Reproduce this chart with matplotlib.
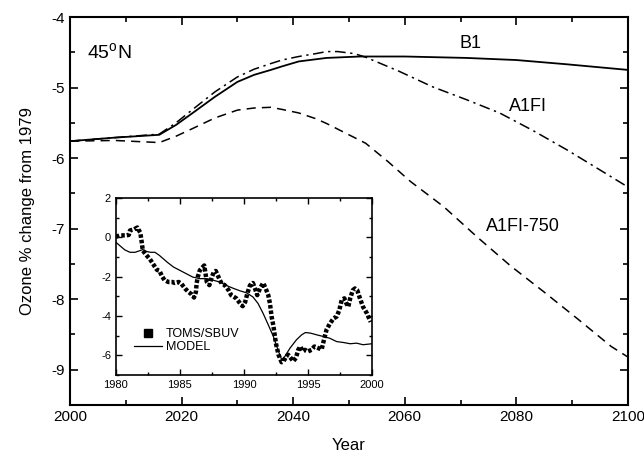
import matplotlib
matplotlib.use("Agg")
import matplotlib.pyplot as plt
from matplotlib.ticker import MultipleLocator

plt.rcParams['font.family'] = ['Liberation Sans', 'DejaVu Sans']
plt.rcParams['mathtext.fontset'] = 'custom'
plt.rcParams['mathtext.rm'] = 'Liberation Sans'
plt.rcParams['axes.unicode_minus'] = False

# main panel scenarios
b1_yr = [2000, 2008, 2016, 2019, 2022, 2026, 2030, 2033, 2036, 2038, 2041, 2044, 2046, 2049, 2052,
         2060, 2071, 2080, 2089, 2100]
b1_val = [-5.76, -5.71, -5.67, -5.53, -5.36, -5.13, -4.92, -4.82, -4.75, -4.70, -4.63, -4.60, -4.58,
          -4.57, -4.56, -4.56, -4.58, -4.61, -4.67, -4.75]

a1fi_yr = [2000, 2008, 2016, 2019, 2022, 2026, 2030, 2033, 2036, 2038, 2041, 2044, 2046, 2048, 2051,
           2053, 2059, 2065, 2071, 2077, 2083, 2089, 2094, 2100]
a1fi_val = [-5.76, -5.71, -5.66, -5.50, -5.31, -5.06, -4.85, -4.74, -4.66, -4.61, -4.56, -4.52, -4.49,
            -4.49, -4.52, -4.57, -4.77, -4.99, -5.17, -5.36, -5.61, -5.88, -6.12, -6.41]

a750_yr = [2000, 2008, 2016, 2019, 2022, 2026, 2030, 2033, 2036, 2038, 2041, 2044, 2046, 2049, 2053,
           2057, 2061, 2067, 2073, 2079, 2085, 2091, 2097, 2100]
a750_val = [-5.76, -5.75, -5.78, -5.69, -5.58, -5.43, -5.32, -5.29, -5.28, -5.31, -5.36, -5.44, -5.51,
            -5.63, -5.79, -6.05, -6.33, -6.69, -7.12, -7.53, -7.90, -8.28, -8.67, -8.82]

# inset: observations and model
toms_yr = [1980.0, 1980.3, 1980.7, 1981.0, 1981.1, 1981.4, 1981.67, 1981.75, 1981.9, 1982.0, 1982.1,
           1982.4, 1982.65, 1982.9, 1983.2, 1983.4, 1983.6, 1983.8, 1984.1, 1984.4, 1984.6, 1984.9,
           1985.1, 1985.4, 1985.65, 1985.9, 1986.1, 1986.25, 1986.3, 1986.4, 1986.55, 1986.8, 1986.9,
           1987.0, 1987.1, 1987.3, 1987.5, 1987.65, 1987.8, 1988.0, 1988.25, 1988.5, 1988.8, 1989.0,
           1989.4, 1989.7, 1989.9, 1990.1, 1990.26, 1990.47, 1990.7, 1990.86, 1991.04, 1991.25, 1991.5,
           1991.7, 1991.9, 1992.03, 1992.16, 1992.3, 1992.5, 1992.7, 1992.94, 1993.1, 1993.3, 1993.45,
           1993.65, 1993.85, 1994.06, 1994.24, 1994.4, 1994.6, 1994.77, 1995.0, 1995.28, 1995.5, 1995.8,
           1996.07, 1996.25, 1996.45, 1996.7, 1997.0, 1997.24, 1997.45, 1997.63, 1997.84, 1998.0, 1998.15,
           1998.3, 1998.5, 1998.67, 1998.85, 1999.06, 1999.3, 1999.6, 1999.9]
toms_val = [0.03, 0.1, 0.1, 0.12, 0.35, 0.4, 0.5, 0.4, 0.25, -0.17, -0.67,
            -0.92, -1.1, -1.35, -1.65, -1.7, -1.98, -2.18, -2.27, -2.27, -2.32, -2.27,
            -2.35, -2.6, -2.77, -2.89, -3.06, -2.77, -2.35, -2.0, -1.68, -1.5, -1.43,
            -1.85, -2.27, -2.43, -2.0, -1.76, -1.71, -2.0, -2.35, -2.43, -2.69, -2.94,
            -3.1, -3.36, -3.5, -3.28, -2.86, -2.44, -2.32, -2.6, -2.94, -2.6, -2.32,
            -2.6, -2.94, -3.36, -4.03, -4.5, -5.4, -5.97, -6.35, -6.3, -6.05, -5.97,
            -6.13, -6.3, -6.13, -5.72, -5.55, -5.8, -5.72, -5.8, -5.72, -5.55, -5.63,
            -5.7, -5.21, -4.7, -4.4, -4.12, -4.03, -3.7, -3.2, -3.1, -3.36, -3.53,
            -3.1, -2.69, -2.6, -2.69, -3.1, -3.53, -3.86, -4.3]

model_yr = [1980.0, 1980.3, 1980.7, 1981.1, 1981.5, 1981.9, 1982.1, 1982.4, 1982.7, 1983.05, 1983.4,
            1984.0, 1984.5, 1985.0, 1985.5, 1986.0, 1986.55, 1987.1, 1987.6, 1988.1, 1988.6, 1989.2,
            1989.7, 1990.2, 1990.7, 1991.1, 1991.5, 1991.9, 1992.3, 1992.7, 1992.95, 1993.2, 1993.6,
            1994.1, 1994.5, 1994.8, 1995.2, 1995.7, 1996.2, 1996.7, 1997.24, 1997.8, 1998.3, 1998.8,
            1999.3, 2000.0]
model_val = [-0.25, -0.42, -0.64, -0.76, -0.76, -0.67, -0.62, -0.72, -0.76, -0.76, -0.92,
             -1.26, -1.51, -1.68, -1.85, -2.02, -2.1, -2.1, -2.18, -2.27, -2.44, -2.6,
             -2.72, -2.82, -3.03, -3.36, -3.87, -4.45, -5.04, -5.8, -6.22, -6.05, -5.63,
             -5.21, -4.96, -4.84, -4.87, -4.96, -5.04, -5.13, -5.3, -5.35, -5.41, -5.38,
             -5.46, -5.41]

fig = plt.figure(figsize=(6.44, 4.57), dpi=100)
ax = fig.add_axes([0.1087, 0.1138, 0.8663, 0.849])

ax.plot(b1_yr, b1_val, color='black', lw=1.3)
ax.plot(a1fi_yr, a1fi_val, color='black', lw=1.1, ls=(0, (7, 3, 1.5, 3)))
ax.plot(a750_yr, a750_val, color='black', lw=1.1, ls=(0, (6, 4)))

ax.set_xlim(2000, 2100)
ax.set_ylim(-9.5, -4)
ax.xaxis.set_major_locator(MultipleLocator(20))
ax.xaxis.set_minor_locator(MultipleLocator(10))
ax.yaxis.set_major_locator(MultipleLocator(1))
ax.yaxis.set_minor_locator(MultipleLocator(0.5))
ax.tick_params(which='both', direction='in', top=True, right=True, labelsize=11, width=1.2)
ax.tick_params(which='major', length=6)
ax.tick_params(which='minor', length=3.5)
for s in ax.spines.values():
    s.set_linewidth(1.5)
ax.set_xlabel('Year', fontsize=12, labelpad=10)
ax.set_ylabel('Ozone % change from 1979', fontsize=12, labelpad=12)

ax.text(2071.7, -4.37, 'B1', fontsize=13, ha='center', va='center')
ax.text(2082, -5.27, 'A1FI', fontsize=13, ha='center', va='center')
ax.text(2081.2, -6.97, 'A1FI-750', fontsize=13, ha='center', va='center')
ax.text(2003, -4.51, '45$^{\\mathrm{o}}$N', fontsize=14, ha='left', va='center')

# inset
ins = fig.add_axes([0.180, 0.1794, 0.3976, 0.3873])
ins.plot(toms_yr, toms_val, color='black', lw=3.2, ls=(0, (0.8, 0.45)),
         dash_capstyle='butt')
ins.plot(model_yr, model_val, color='black', lw=0.9)
ins.set_xlim(1980, 2000)
ins.set_ylim(-7, 2)
ins.xaxis.set_major_locator(MultipleLocator(5))
ins.xaxis.set_minor_locator(MultipleLocator(2.5))
ins.yaxis.set_major_locator(MultipleLocator(2))
ins.yaxis.set_minor_locator(MultipleLocator(1))
ins.tick_params(which='both', direction='in', top=True, right=True, labelsize=8, width=1)
ins.tick_params(which='major', length=4)
ins.tick_params(which='minor', length=2.5)
for s in ins.spines.values():
    s.set_linewidth(1.2)

h1, = ins.plot([], [], 's', color='black', ms=6)
h2, = ins.plot([], [], '-', color='black', lw=0.9)
ins.legend([h1, h2], ['TOMS/SBUV', 'MODEL'], loc='lower left', bbox_to_anchor=(0.04, 0.08),
           frameon=False, fontsize=9, handlelength=2.3, handletextpad=0.3, labelspacing=0.1,
           borderaxespad=0.2)

fig.savefig('out.png', dpi=100)
